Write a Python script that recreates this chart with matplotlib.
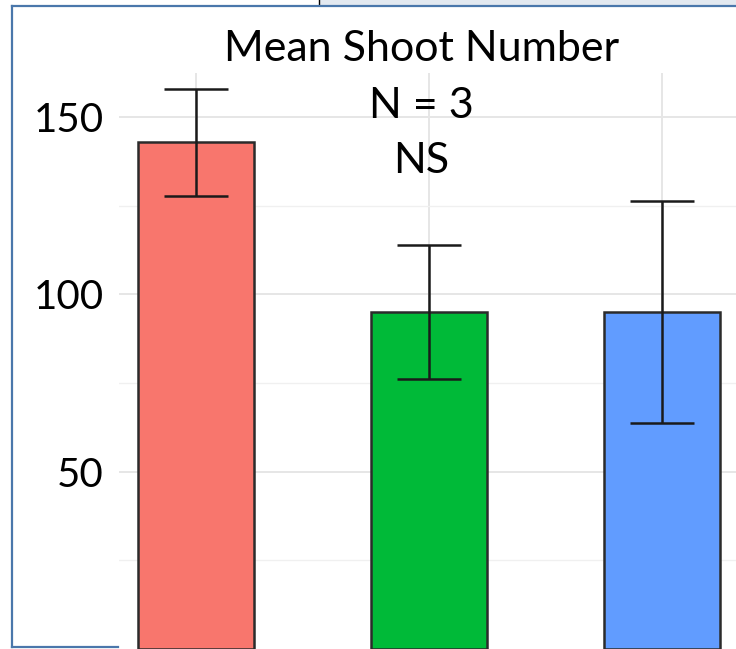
import matplotlib.pyplot as plt
from matplotlib.lines import Line2D
from matplotlib.patches import Rectangle
import numpy as np

# values
groups = ['A', 'B', 'C']
means = [142.8, 94.9, 95.1]
errors = [15.0, 18.9, 31.3]
colors = ['#F8766D', '#00BA38', '#619CFF']
yticks = [50, 100, 150]
minor_ticks = [25, 75, 125]
title_lines = ['Mean Shoot Number', 'N = 3', 'NS']

W, H = 736, 649
fig = plt.figure(figsize=(W / 100, H / 100), dpi=100)
fig.patch.set_facecolor('white')

# panel: left edge at x=119 px, zero at y=648.8 px, top at y=73 px
ax = fig.add_axes([119 / W, (H - 648.8) / H, (W - 119) / W, (648.8 - 73) / H])
x = np.arange(1, len(groups) + 1)
ax.set_xlim(0.67, 3.318)
ax.set_ylim(0, 162.4)

ax.bar(x, means, width=0.5, color=colors, edgecolor='#2b2b2b', linewidth=1.8, zorder=3)
ax.errorbar(x, means, yerr=errors, fmt='none', ecolor='#1a1a1a', elinewidth=1.8,
            capsize=23, capthick=1.8, zorder=4)

ax.set_yticks(yticks)
ax.set_yticklabels([str(t) for t in yticks])
ax.set_yticks(minor_ticks, minor=True)
ax.set_xticks(x)
ax.set_xticklabels([])
ax.tick_params(axis='both', which='both', length=0)
ax.tick_params(axis='y', pad=11, labelsize=29)
for lab in ax.get_yticklabels():
    lab.set_family('Lato')
ax.grid(True, which='major', color='#e6e6e6', linewidth=1.4, zorder=0)
ax.grid(True, which='minor', axis='y', color='#f0f0f0', linewidth=1.0, zorder=0)
ax.set_axisbelow(True)
for s in ax.spines.values():
    s.set_visible(False)

# stacked title text
baselines = [61, 118, 173]
for txt, b in zip(title_lines, baselines):
    fig.text(421.5 / W, 1 - b / H, txt, ha='center', va='baseline',
             fontsize=31, family='Lato', color='black', zorder=5)

# slide frame around the cropped screenshot
frame = '#4a77ab'
fig.add_artist(Rectangle((320 / W, 1 - 5 / H), (W - 320) / W, 5 / H,
                         transform=fig.transFigure, color='#e3e9f0', lw=0))
fig.add_artist(Line2D([319 / W, 319 / W], [1 - 5 / H, 1], transform=fig.transFigure,
                      color='black', lw=1))
fig.add_artist(Line2D([12 / W, 1], [1 - 6 / H, 1 - 6 / H], transform=fig.transFigure,
                      color=frame, lw=1.6))
fig.add_artist(Line2D([12 / W, 12 / W], [1 - 6 / H, 1 - 647 / H], transform=fig.transFigure,
                      color=frame, lw=1.6))
fig.add_artist(Line2D([12 / W, 118 / W], [1 - 647 / H, 1 - 647 / H], transform=fig.transFigure,
                      color=frame, lw=1.6))

fig.savefig('out.png', dpi=100)
